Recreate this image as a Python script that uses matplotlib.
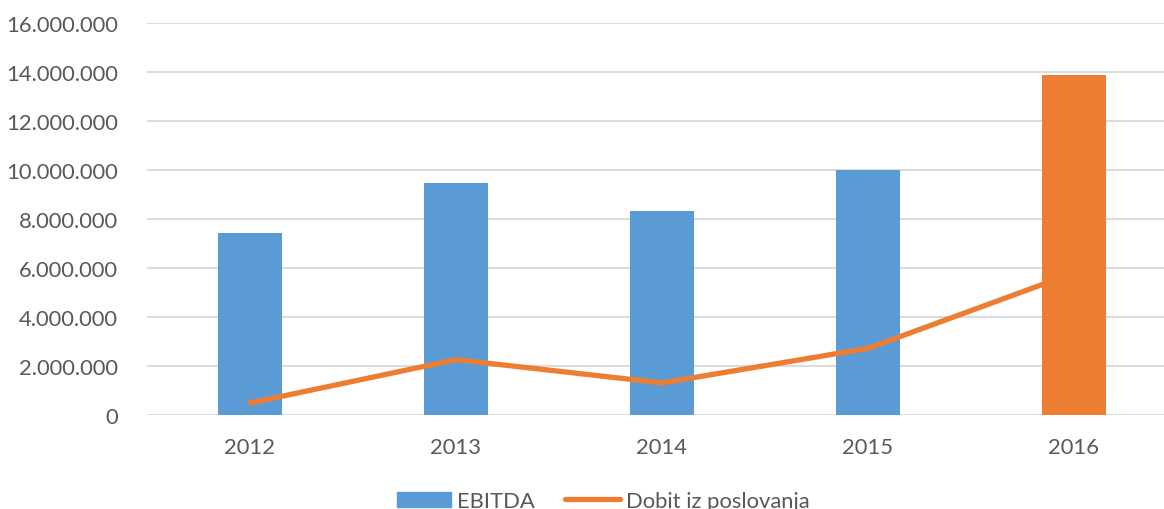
import matplotlib
matplotlib.use("Agg")
import matplotlib.pyplot as plt
from matplotlib.ticker import FuncFormatter, MultipleLocator
from matplotlib.patches import Patch
from matplotlib.lines import Line2D

years = ["2012", "2013", "2014", "2015", "2016"]
ebitda = [7420000, 9470000, 8330000, 10000000, 13880000]
dobit = [490000, 2260000, 1310000, 2720000, 5800000]
bar_colors = ["#5b9bd5", "#5b9bd5", "#5b9bd5", "#5b9bd5", "#ed7d31"]

plt.rcParams["font.family"] = ["Lato", "DejaVu Sans"]
text_color = "#595959"
fs = 15.8

fig = plt.figure(figsize=(11.64, 5.10), dpi=100)
ax = fig.add_axes([147 / 1164, 1 - 416 / 510, 1 - 147 / 1164, 392 / 510])

x = range(len(years))
ax.plot(x, dobit, color="#ed7d31", lw=3.8, solid_capstyle="round", zorder=3)
ax.bar(x, ebitda, width=0.31, color=bar_colors, zorder=2)

ax.set_ylim(0, 16000000)
ax.set_xlim(-0.5, 4.437)
ax.yaxis.set_major_locator(MultipleLocator(2000000))
ax.yaxis.set_major_formatter(FuncFormatter(lambda v, p: f"{int(v):,}".replace(",", ".")))
ax.set_xticks(list(x))
ax.set_xticklabels(years)
ax.grid(axis="y", color="#d9d9d9", lw=1.3, zorder=0)
ax.set_axisbelow(True)
for s in ax.spines.values():
    s.set_visible(False)
ax.tick_params(axis="both", length=0, labelsize=fs, colors=text_color)
ax.tick_params(axis="y", pad=21)
ax.tick_params(axis="x", pad=16)

handles = [Patch(color="#5b9bd5", label="EBITDA"),
           Line2D([0], [0], color="#ed7d31", lw=3.8, solid_capstyle="round",
                  label="Dobit iz poslovanja")]
fig.legend(handles=handles, loc="center", bbox_to_anchor=(603 / 1164, 1 - 502 / 510),
           ncol=2, frameon=False, fontsize=fs, labelcolor=text_color,
           handlelength=2.5, handletextpad=0.25, columnspacing=1.4)

fig.savefig("out.png", dpi=100)
